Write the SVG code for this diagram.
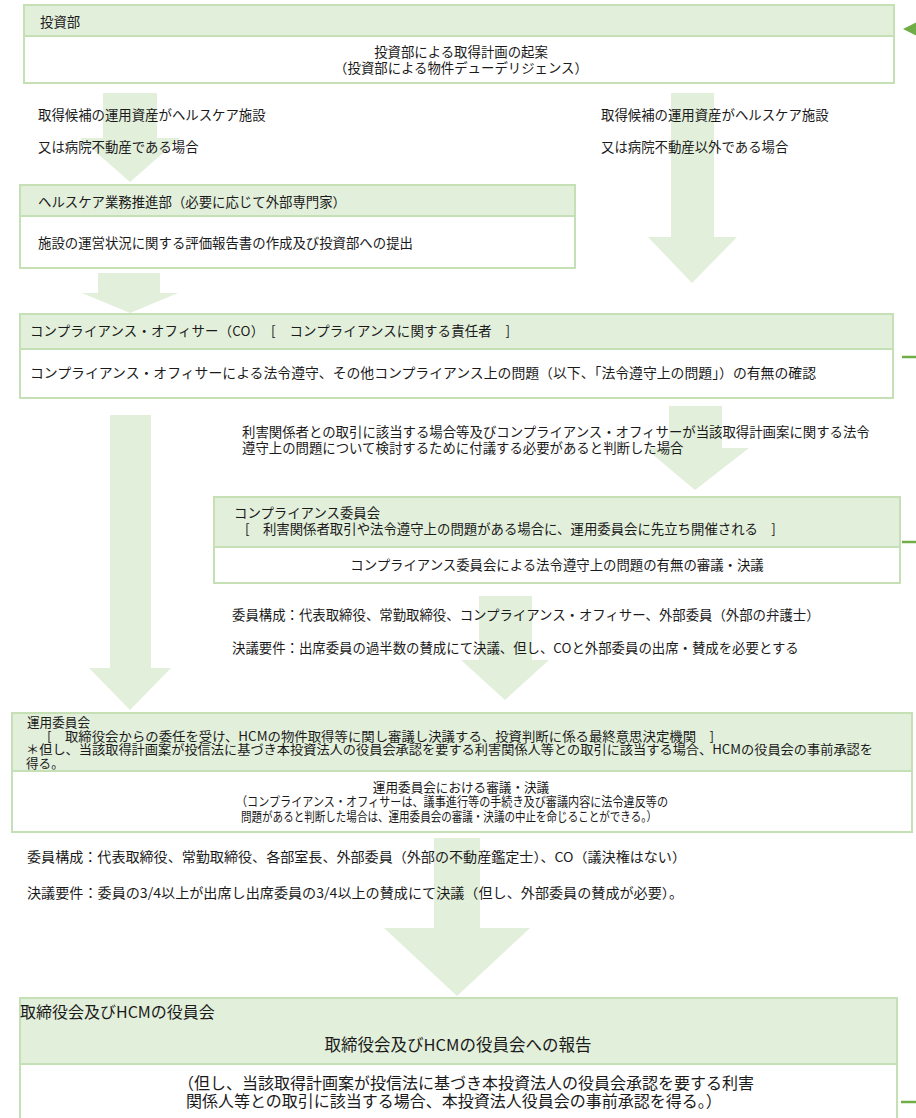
<svg xmlns="http://www.w3.org/2000/svg" width="916" height="1118" viewBox="0 0 916 1118">
<style>
.t{font-family:"Noto Sans CJK JP","Noto Sans",sans-serif;font-size:13.4px;fill:#1a1a1a}
.m{text-anchor:middle}
.s{font-size:12.6px}
.b{font-size:16px}
.box{fill:#ffffff;stroke:#c5e0b4;stroke-width:2}
.hd{fill:#e2efda;stroke:#c5e0b4;stroke-width:2}
.arr{fill:#e2efda;stroke:none}
.stub{stroke:#70ad47;stroke-width:2.5;fill:none}
.tip{fill:#70ad47}
</style>
<rect width="916" height="1118" fill="#ffffff"/>
<g id="connectors">
<polygon class="arr" points="103,93 157,93 157,138 180,138 130,182 80,138 103,138"/>
<polygon class="arr" points="671,93 714,93 714,237 737,237 692,283 648,237 671,237"/>
<polygon class="arr" points="98,273 160,273 160,293 178,293 130,313 82,293 98,293"/>
<polygon class="arr" points="110,415 151,415 151,668 171,668 130,710 89,668 110,668"/>
<polygon class="arr" points="669,406 722,406 722,448 749,448 695,490 645,448 669,448"/>
<polygon class="arr" points="479,596 532,596 532,660 549,660 505,700 461,660 479,660"/>
<polygon class="arr" points="434,838 480,838 480,928 530,928 457,996 384,928 434,928"/>
<g id="feedback">
<polygon class="tip" points="903,29 918,21.5 918,36.5"/>
<line class="stub" x1="902" y1="357" x2="918" y2="357"/>
<line class="stub" x1="902" y1="542" x2="918" y2="542"/>
<line class="stub" x1="901" y1="1102" x2="918" y2="1102"/>
</g>
</g>
<g id="labels">
<text class="t" x="38" y="120">取得候補の運用資産がヘルスケア施設</text>
<text class="t" x="38" y="152">又は病院不動産である場合</text>
<text class="t" x="601" y="120">取得候補の運用資産がヘルスケア施設</text>
<text class="t" x="601" y="152">又は病院不動産以外である場合</text>
<text class="t" x="242" y="437">利害関係者との取引に該当する場合等及びコンプライアンス・オフィサーが当該取得計画案に関する法令</text>
<text class="t" x="242" y="453">遵守上の問題について検討するために付議する必要があると判断した場合</text>
<text class="t" x="232" y="620">委員構成：代表取締役、常勤取締役、コンプライアンス・オフィサー、外部委員（外部の弁護士）</text>
<text class="t" x="232" y="653">決議要件：出席委員の過半数の賛成にて決議、但し、COと外部委員の出席・賛成を必要とする</text>
<text class="t" x="27" y="862" textLength="659" lengthAdjust="spacingAndGlyphs">委員構成：代表取締役、常勤取締役、各部室長、外部委員（外部の不動産鑑定士）、CO（議決権はない）</text>
<text class="t" x="27" y="898" textLength="656" lengthAdjust="spacingAndGlyphs">決議要件：委員の3/4以上が出席し出席委員の3/4以上の賛成にて決議（但し、外部委員の賛成が必要）。</text>
</g>
<g id="node-toushibu">
<rect class="box" x="24" y="5" width="870" height="78"/>
<rect class="hd" x="24" y="5" width="870" height="31"/>
<text class="t" x="40" y="27">投資部</text>
<text class="t m" x="461" y="57">投資部による取得計画の起案</text>
<text class="t m" x="461" y="73">（投資部による物件デューデリジェンス）</text>
</g>
<g id="node-healthcare">
<rect class="box" x="20" y="185" width="555" height="83"/>
<rect class="hd" x="20" y="185" width="555" height="31"/>
<text class="t" x="38" y="207">ヘルスケア業務推進部（必要に応じて外部専門家）</text>
<text class="t" x="38" y="248">施設の運営状況に関する評価報告書の作成及び投資部への提出</text>
</g>
<g id="node-co">
<rect class="box" x="20" y="314" width="873" height="84"/>
<rect class="hd" x="20" y="314" width="873" height="35"/>
<text class="t" x="30" y="336" textLength="480" lengthAdjust="spacing">コンプライアンス・オフィサー（CO）　[　コンプライアンスに関する責任者　]</text>
<text class="t" x="30" y="378" textLength="786" lengthAdjust="spacingAndGlyphs">コンプライアンス・オフィサーによる法令遵守、その他コンプライアンス上の問題（以下、「法令遵守上の問題」）の有無の確認</text>
</g>
<g id="node-compliance-committee">
<rect class="box" x="214" y="497" width="686" height="86"/>
<rect class="hd" x="214" y="497" width="686" height="50"/>
<text class="t" x="234" y="518">コンプライアンス委員会</text>
<text class="t" x="245" y="534">[　利害関係者取引や法令遵守上の問題がある場合に、運用委員会に先立ち開催される　]</text>
<text class="t m" x="557" y="570">コンプライアンス委員会による法令遵守上の問題の有無の審議・決議</text>
</g>
<g id="node-investment-committee">
<rect class="box" x="12" y="713" width="900" height="119"/>
<rect class="hd" x="12" y="713" width="900" height="58"/>
<text class="t s" x="27" y="727">運用委員会</text>
<text class="t s" x="47" y="740.5" textLength="667" lengthAdjust="spacingAndGlyphs">[　取締役会からの委任を受け、HCMの物件取得等に関し審議し決議する、投資判断に係る最終意思決定機関　]</text>
<text class="t s" x="26" y="754" textLength="847" lengthAdjust="spacingAndGlyphs">＊但し、当該取得計画案が投信法に基づき本投資法人の役員会承認を要する利害関係人等との取引に該当する場合、HCMの役員会の事前承認を</text>
<text class="t s" x="26" y="767.5">得る。</text>
<text class="t s m" x="461" y="791.5">運用委員会における審議・決議</text>
<text class="t s" x="236" y="806" textLength="432" lengthAdjust="spacingAndGlyphs">（コンプライアンス・オフィサーは、議事進行等の手続き及び審議内容に法令違反等の</text>
<text class="t s" x="241" y="820.5" textLength="416" lengthAdjust="spacingAndGlyphs">問題があると判断した場合は、運用委員会の審議・決議の中止を命じることができる。）</text>
</g>
<g id="node-board">
<rect class="box" x="20" y="998" width="877" height="135"/>
<rect class="hd" x="20" y="998" width="877" height="66"/>
<text class="t b" x="20" y="1018">取締役会及びHCMの役員会</text>
<text class="t b m" x="458" y="1051" style="font-size:16.5px">取締役会及びHCMの役員会への報告</text>
<text class="t b" x="178" y="1089">（但し、当該取得計画案が投信法に基づき本投資法人の役員会承認を要する利害</text>
<text class="t b" x="186" y="1107">関係人等との取引に該当する場合、本投資法人役員会の事前承認を得る。）</text>
</g>
</svg>
